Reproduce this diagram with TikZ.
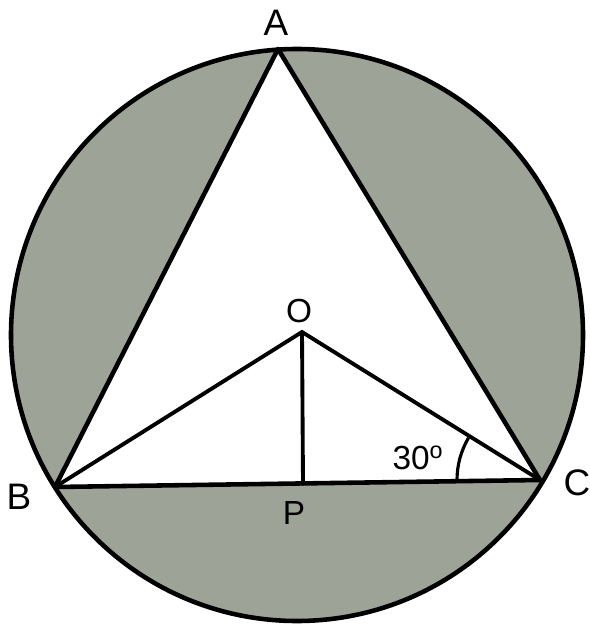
\documentclass[tikz,border=0pt]{standalone}
\usepackage{fontspec}
\setmainfont{Liberation Sans}
\definecolor{segfill}{RGB}{158,163,152}
\begin{document}
\begin{tikzpicture}[x=0.02cm,y=-0.02cm,
  edge/.style={line width=2.6pt,line cap=round,line join=round},
  thin edge/.style={line width=2.2pt,line cap=round},
  lbl/.style={font=\fontsize{21}{21}\selectfont,inner sep=0pt},
  slbl/.style={font=\fontsize{19}{19}\selectfont,inner sep=0pt}]
\useasboundingbox (0,0) rectangle (590,624);
\coordinate (Z) at (297,335);
\coordinate (A) at (278,49);
\coordinate (B) at (55,487);
\coordinate (C) at (540,480);
\coordinate (O) at (302,332);
\coordinate (P) at (303,484);
% shaded segments
\fill[segfill,even odd rule] (Z) circle[radius=286] (A) -- (B) -- (C) -- cycle;
% outlines
\draw[edge] (Z) circle[radius=286];
\draw[edge] (A) -- (B) -- (C) -- cycle;
\draw[thin edge] (B) -- (O) -- (C);
\draw[thin edge] (O) -- (P);
% angle mark
\coordinate (K) at (457,480);
\draw[line width=1.8pt] (K) arc[start angle=180,end angle=210.5,radius=83];
% labels
\node[lbl] (lA) at (276,23) {A};
\node[lbl] (lB) at (19,497) {B};
\node[lbl] (lC) at (577,483) {C};
\node[slbl] (lO) at (299,311) {O};
\node[slbl] (lP) at (294,513) {P};
\node[font=\fontsize{19}{19}\selectfont,inner sep=0pt] (l30) at (418,458) {30\textsuperscript{o}};
\end{tikzpicture}
\end{document}
